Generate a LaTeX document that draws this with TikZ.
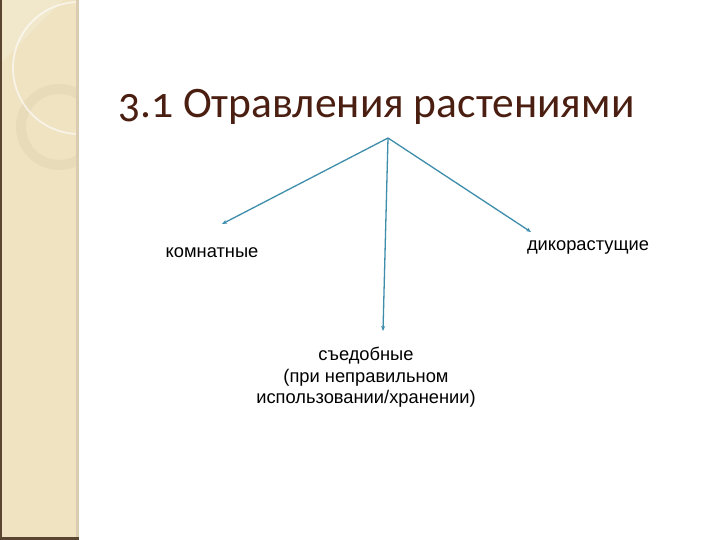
\documentclass[tikz,border=0pt]{standalone}
\usepackage{fontspec}
\setmainfont{Liberation Sans}
\newfontfamily\titlefont[Numbers=OldStyle]{Carlito}
\usetikzlibrary{arrows.meta}
\definecolor{stripe}{HTML}{EFE3C2}
\definecolor{stripeedge}{HTML}{D9CCB0}
\definecolor{darkedge}{HTML}{5A4630}
\definecolor{titlecol}{HTML}{4A1E10}
\definecolor{arrowcol}{HTML}{3E8DAB}
\definecolor{ringcol}{HTML}{E7DBBA}
\tikzset{
  branch/.style={draw=arrowcol, line width=1.3pt, -{Stealth[length=5pt,width=4pt]}},
  lbl/.style={font=\fontsize{18.3}{21.5}\selectfont, text=black, inner sep=0pt, align=center}
}
\begin{document}
\begin{tikzpicture}[x=1pt,y=-1pt]
\useasboundingbox (0,0) rectangle (720,540);
\fill[white] (0,0) rectangle (720,540);
% left decorative stripe
\fill[stripe] (0,0) rectangle (78,540);
\begin{scope}
\clip (2,0) rectangle (76,540);
\fill[white,opacity=0.15] (2,0) -- (63,0) -- (2,62) -- cycle;
\draw[ringcol, line width=10pt] (59,127) circle (38);
\draw[white,opacity=0.6, line width=1.8pt] (79,68) circle (66);
\end{scope}
\fill[stripeedge] (76,0) rectangle (79,540);
\fill[darkedge] (0,0) rectangle (2,540);
\fill[darkedge] (0,537) rectangle (79,540);
% title
\node[anchor=base west, inner sep=0pt, text=titlecol, font=\titlefont\fontsize{43.5}{48}\selectfont] (title) at (118,118) {3.1 Отравления растениями};
% branches
\coordinate (apex) at (388,138);
\coordinate (lend) at (222,224);
\coordinate (rend) at (531,232);
\coordinate (dend) at (383,331);
\draw[branch] (apex) -- (lend);
\draw[branch] (apex) -- (rend);
\draw[branch] (apex) -- (dend);
% labels
\node[lbl] (komn) at (212,252.5) {комнатные};
\node[lbl] (dikor) at (588,247.5) {дикорастущие};
\node[lbl] (sied) at (366,377.5) {съедобные\\(при неправильном\\использовании/хранении)};
\end{tikzpicture}
\end{document}
